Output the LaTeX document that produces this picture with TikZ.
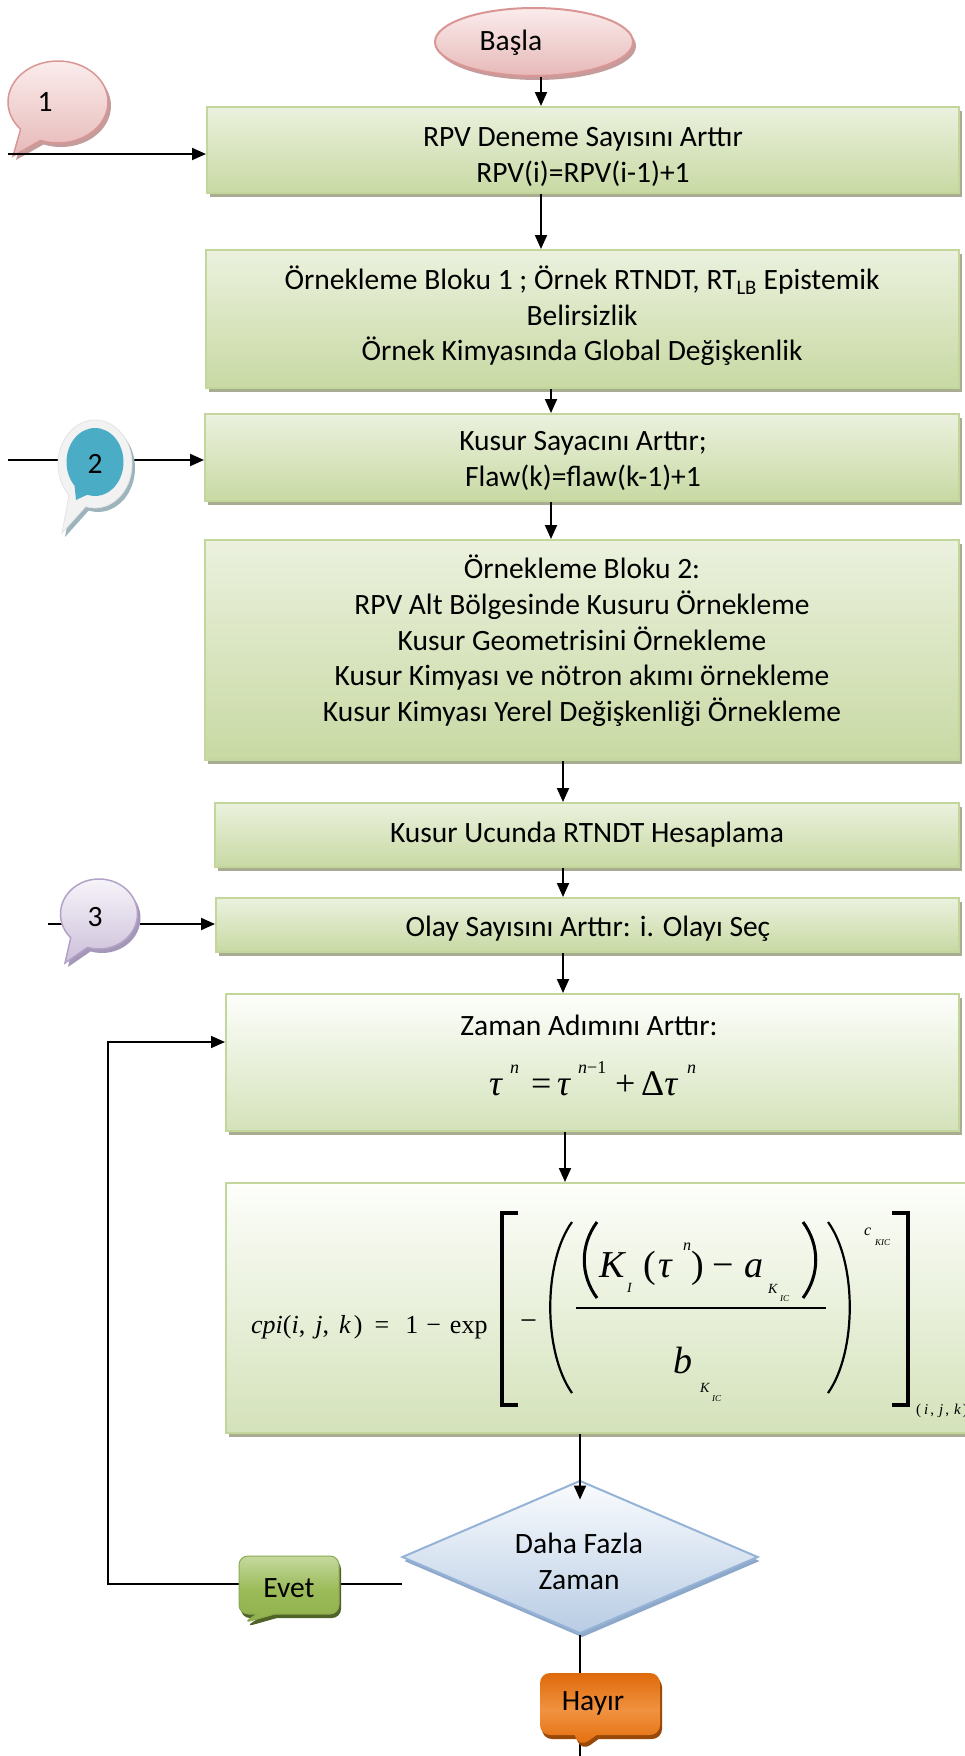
\documentclass[tikz,border=0pt]{standalone}
\usepackage{fontspec}
\setmainfont{Carlito}
\newfontfamily\eqfont{Liberation Serif}
\usetikzlibrary{shapes.geometric,shapes.callouts,shadows,arrows.meta}

\definecolor{boxline}{HTML}{C3D69B}
\definecolor{boxtop}{HTML}{EBF1DE}
\definecolor{boxbot}{HTML}{C8D9A3}
\definecolor{boxshadow}{HTML}{A8AD92}
\definecolor{paletop}{HTML}{FDFEFB}
\definecolor{palebot}{HTML}{D4E2BA}
\definecolor{pinkline}{HTML}{D99694}
\definecolor{pinktop}{HTML}{FBECEC}
\definecolor{pinkbot}{HTML}{E6B9B8}
\definecolor{pinkshadow}{HTML}{C49C9C}
\definecolor{bluecirc}{HTML}{4BACC6}
\definecolor{ringfill}{HTML}{F2F2F2}
\definecolor{ringline}{HTML}{E4E4E4}
\definecolor{ringshadow}{HTML}{9DB4BD}
\definecolor{lavline}{HTML}{B3A2C7}
\definecolor{lavtop}{HTML}{F6F3F9}
\definecolor{lavbot}{HTML}{CCC0DA}
\definecolor{lavshadow}{HTML}{A497B7}
\definecolor{evetline}{HTML}{8AAA50}
\definecolor{evettop}{HTML}{C5D99E}
\definecolor{evetmid}{HTML}{9BBB59}
\definecolor{evetbot}{HTML}{8FB04C}
\definecolor{evetshadow}{HTML}{4F6228}
\definecolor{hayirtop}{HTML}{DF6A0B}
\definecolor{hayirmid}{HTML}{F09240}
\definecolor{hayirbot}{HTML}{E36C0A}
\definecolor{hayirshadow}{HTML}{984807}
\definecolor{dialine}{HTML}{95B3D7}
\definecolor{diatop}{HTML}{FAFCFE}
\definecolor{diabot}{HTML}{B8CCE4}
\definecolor{diashadow}{HTML}{8EA8CA}

\tikzset{
  flowbox/.style={rectangle, draw=boxline, line width=2pt,
    top color=boxtop, bottom color=boxbot,
    drop shadow={shadow xshift=3pt, shadow yshift=-4pt, fill=boxshadow, opacity=1}},
  palebox/.style={flowbox, top color=paletop, bottom color=palebot},
  txt/.style={font=\fontsize{29.5}{35.7}\selectfont, align=center, inner sep=0pt},
  eqf/.style={font=\eqfont\fontsize{#1}{#1}\selectfont, anchor=base west, inner sep=0pt},
  arr/.style={-{Triangle[length=14pt,width=12pt]}, line width=2pt, draw=black},
  thinline/.style={line width=1.6pt, draw=black},
  delim/.style={line width=2.2pt, draw=black},
  bracket/.style={line width=4pt, draw=black, line join=miter},
}

\begin{document}
\begin{tikzpicture}[x=1pt,y=-1pt]
\useasboundingbox (0,0) rectangle (965,1756);
\clip (0,0) rectangle (965,1756);
\fill[white] (0,0) rectangle (965,1756);

% column positions of the vertical connectors
\coordinate (colA) at (541,0);
\coordinate (colB) at (551,0);
\coordinate (colC) at (563,0);
\coordinate (colD) at (565,0);

% start terminal
\node[ellipse, draw=pinkline, line width=2pt, top color=pinktop, bottom color=pinkbot,
      drop shadow={shadow xshift=3pt, shadow yshift=-4pt, fill=pinkshadow, opacity=1},
      minimum width=198pt, minimum height=68pt] (start) at (534,42) {};
\node[txt] (startTxt) at (511,43) {Başla};

% process boxes
\node[flowbox, minimum width=752pt, minimum height=86pt]  (box1) at (583,150) {};
\node[flowbox, minimum width=753pt, minimum height=138pt] (box2) at (582.5,319) {};
\node[flowbox, minimum width=754pt, minimum height=87pt]  (box3) at (582,457.5) {};
\node[flowbox, minimum width=754pt, minimum height=220pt] (box4) at (582,650) {};
\node[flowbox, minimum width=744pt, minimum height=64pt]  (box5) at (587,835) {};
\node[flowbox, minimum width=743pt, minimum height=54pt]  (box6) at (587.5,925) {};
\node[palebox, minimum width=733pt, minimum height=137pt] (box7) at (592.5,1062.5) {};
\node[palebox, minimum width=774pt, minimum height=250pt] (box8) at (613,1308) {};

% decision
\node[diamond, draw=dialine, line width=2pt, top color=diatop, bottom color=diabot,
      drop shadow={shadow xshift=2pt, shadow yshift=-4pt, fill=diashadow, opacity=1},
      minimum width=356pt, minimum height=153pt, aspect=2.3, inner sep=0pt] (dia) at (580,1557) {};
\node[txt] (diaTxt) at (579,1561) {Daha Fazla\\Zaman};

% box texts
\node[txt] (t1) at (583,157) {RPV Deneme Sayısını Arttır\\RPV(i)=RPV(i-1)+1};
\node[txt] (t2) at (582,316) {Örnekleme Bloku 1 ; Örnek RTNDT, RT\textsubscript{LB} Epistemik\\Belirsizlik\\Örnek Kimyasında Global Değişkenlik};
\node[txt] (t3) at (583,461) {Kusur Sayacını Arttır;\\Flaw(k)=flaw(k-1)+1};
\node[txt] (t4) at (582,641) {Örnekleme Bloku 2:\\RPV Alt Bölgesinde Kusuru Örnekleme\\Kusur Geometrisini Örnekleme\\Kusur Kimyası ve nötron akımı örnekleme\\Kusur Kimyası Yerel Değişkenliği Örnekleme};
\node[txt] (t5) at (587,835) {Kusur Ucunda RTNDT Hesaplama};
\node[txt] (t6) at (588,929) {Olay Sayısını Arttır: i. Olayı Seç};
\node[txt] (t7) at (589,1025) {Zaman Adımını Arttır:};

% time step equation
\node[eqf=36] (tauA)  at (489,1095) {\textit{τ}};
\node[eqf=18] (tauAs) at (510,1073) {\textit{n}};
\node[eqf=36] (tauEq) at (531,1095) {=};
\node[eqf=36] (tauB)  at (557,1095) {\textit{τ}};
\node[eqf=18] (tauBs) at (578,1073) {\textit{n}−1};
\node[eqf=36] (tauPl) at (615,1095) {+};
\node[eqf=36] (tauC)  at (641,1095) {Δ\textit{τ}};
\node[eqf=18] (tauCs) at (687,1073) {\textit{n}};

% conditional probability of initiation
\node[eqf=26] (cpiL) at (251,1333) {\textit{cpi}(\textit{i},\hspace{10pt}\textit{j},\hspace{10pt}\textit{k}\hspace{3pt})\hspace{12pt}=\hspace{16pt}1\hspace{8pt}−\hspace{9pt}exp};
\draw[bracket] (518,1213) -- (502,1213) -- (502,1405) -- (518,1405);
\draw[bracket] (892,1213) -- (908,1213) -- (908,1405) -- (892,1405);
\node[eqf=30] (brMinus) at (520,1330) {−};
\draw[delim] (572,1222) .. controls (543,1262) and (543,1352) .. (572,1393);
\draw[delim] (828,1222) .. controls (857,1262) and (857,1352) .. (828,1393);
\draw[line width=3pt] (597,1222) .. controls (580,1245) and (580,1275) .. (597,1298);
\draw[line width=3pt] (803,1222) .. controls (820,1245) and (820,1275) .. (803,1298);
\node[eqf=38] (numK) at (599,1277) {\textit{K}};
\node[eqf=14] (numKs) at (627,1292) {\textit{I}};
\node[eqf=38] (numTau) at (643,1277) {(\hspace{3pt}\textit{τ}};
\node[eqf=16] (numTauS) at (683,1250) {\textit{n}};
\node[eqf=38] (numRp) at (691,1277) {)};
\node[eqf=38] (numMinus) at (712,1277) {−};
\node[eqf=38] (numA) at (744,1277) {\textit{a}};
\node[eqf=14] (numAs) at (768,1293) {\textit{K}};
\node[eqf=9] (numAss) at (780,1301) {\textit{IC}};
\draw[line width=2.5pt] (576,1308) -- (826,1308);
\node[eqf=38] (denB) at (673,1373) {\textit{b}};
\node[eqf=14] (denBs) at (700,1392) {\textit{K}};
\node[eqf=9] (denBss) at (712,1401) {\textit{IC}};
\node[eqf=16] (expC) at (864,1235) {\textit{c}};
\node[eqf=9] (expCs) at (875,1245) {\textit{KIC}};
\node[eqf=15] (subIJK) at (916,1414) {(\hspace{3pt}\textit{i}\hspace{2pt},\hspace{5pt}\textit{j}\hspace{2pt},\hspace{5pt}\textit{k}\hspace{2pt})};

% entry point 1
\node[ellipse callout, draw=pinkline, line width=1.5pt, top color=pinktop, bottom color=pinkbot,
      drop shadow={shadow xshift=3pt, shadow yshift=-4pt, fill=pinkshadow, opacity=1},
      minimum width=100pt, minimum height=82pt,
      callout absolute pointer={(13,156)}, callout pointer arc=28] (call1) at (58,102) {};
\node[txt] (call1Txt) at (45,102) {1};

% main flow connectors
\draw[arr] (start.south -| colA) -- (box1.north -| colA);
\draw[arr] (box1.south -| colA) -- (box2.north -| colA);
\draw[arr] (box2.south -| colB) -- (box3.north -| colB);
\draw[arr] (box3.south -| colB) -- (box4.north -| colB);
\draw[arr] (box4.south -| colC) -- (box5.north -| colC);
\draw[arr] (box5.south -| colC) -- (box6.north -| colC);
\draw[arr] (box6.south -| colC) -- (box7.north -| colC);
\draw[arr] (box7.south -| colD) -- (box8.north -| colD);
\draw[arr] (box8.south -| dia.north) -- ([yshift=-20pt]dia.north);

% entry lines from the connectors
\coordinate (c1in) at (8,154);
\coordinate (c2in) at (8,460);
\coordinate (c3in) at (48,924);
\draw[arr] (c1in) -- (c1in -| box1.west);
\draw[arr] (c2in) -- (c2in -| box3.west);
\draw[arr] (c3in) -- (c3in -| box6.west);

% loop back to the time step
\coordinate (loopS) at (402,1584);
\coordinate (loopB) at (108,1584);
\coordinate (loopT) at (108,1042);
\draw[arr, line width=1.6pt] (loopS) -- (loopB) -- (loopT) -- (loopT -| box7.west);

% exit line
\coordinate (endB) at (580,1762);
\draw[thinline] (dia.south) -- (endB);

% entry point 2
\node[ellipse callout, fill=ringfill, draw=ringline, line width=0.8pt,
      drop shadow={shadow xshift=3pt, shadow yshift=-4pt, fill=ringshadow, opacity=1},
      minimum width=74pt, minimum height=88pt,
      callout absolute pointer={(62,533)}, callout pointer arc=30] (call2) at (95,464) {};
\node[ellipse callout, fill=bluecirc, minimum width=57pt, minimum height=68pt,
      callout absolute pointer={(76,500)}, callout pointer arc=30] (call2in) at (95,462) {};
\node[txt] (call2Txt) at (95,464) {2};

% entry point 3
\node[ellipse callout, draw=lavline, line width=1.5pt, top color=lavtop, bottom color=lavbot,
      drop shadow={shadow xshift=3pt, shadow yshift=-4pt, fill=lavshadow, opacity=1},
      minimum width=77pt, minimum height=70pt,
      callout absolute pointer={(65,963)}, callout pointer arc=30] (call3) at (99,914) {};
\node[txt] (call3Txt) at (95,917) {3};

% branch labels
\node[rectangle callout, rounded corners=9pt, draw=evetline, line width=1pt,
      top color=evettop, bottom color=evetbot, middle color=evetmid,
      drop shadow={shadow xshift=2pt, shadow yshift=-4pt, fill=evetshadow, opacity=1},
      minimum width=100pt, minimum height=58pt,
      callout absolute pointer={(243,1623)}, callout pointer width=18pt] (evet) at (289,1585) {};
\node[txt] (evetTxt) at (289,1588) {Evet};

\node[rectangle callout, rounded corners=10pt,
      top color=hayirtop, bottom color=hayirbot, middle color=hayirmid,
      drop shadow={shadow xshift=2pt, shadow yshift=-4pt, fill=hayirshadow, opacity=1},
      minimum width=120pt, minimum height=62pt,
      callout absolute pointer={(580,1747)}, callout pointer width=22pt] (hayir) at (600,1704) {};
\node[txt] (hayirTxt) at (593,1703) {Hayır};
\end{tikzpicture}
\end{document}
